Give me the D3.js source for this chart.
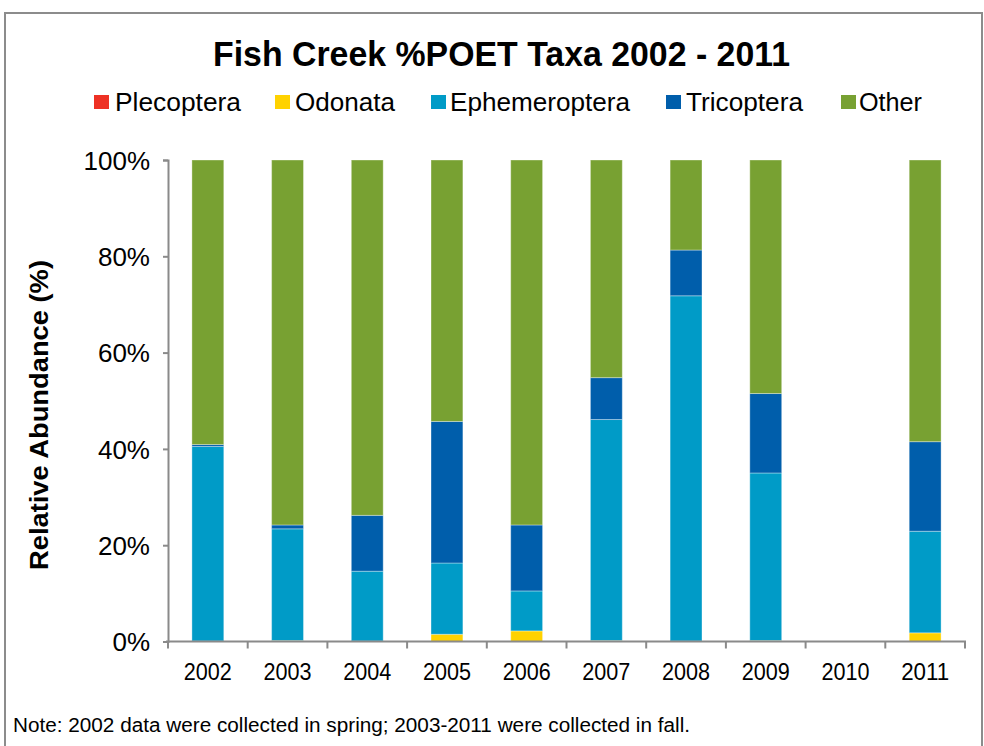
<!DOCTYPE html>
<html>
<head>
<meta charset="utf-8">
<script src="https://cdn.jsdelivr.net/npm/d3@7"></script>
<style>
  html, body { margin: 0; padding: 0; background: #fff; }
  svg { display: block; font-family: "Liberation Sans", Arial, sans-serif; }
</style>
</head>
<body>
<svg id="chart" width="984" height="746"></svg>
<script>
// Sampling years
const years = ["2002", "2003", "2004", "2005", "2006", "2007", "2008", "2009", "2010", "2011"];

// Relative abundance (%) of each taxon group per year (2010: no sample)
const plecoptera    = [0,    0,    0,    0,    0,    0,    0,    0,    0, 0];
const odonata       = [0.1,  0.2,  0.1,  1.5,  2.2,  0.2,  0.1,  0.2,  0, 1.8];
const ephemeroptera = [40.4, 23.2, 14.5, 14.8, 8.3,  45.9, 71.7, 34.8, 0, 21.1];
const tricoptera    = [0.4,  0.8,  11.6, 29.4, 13.7, 8.7,  9.5,  16.5, 0, 18.6];
const other         = [59.1, 75.8, 73.8, 54.3, 75.8, 45.2, 18.7, 48.5, 0, 58.5];

const seriesNames = ["Plecoptera", "Odonata", "Ephemeroptera", "Tricoptera", "Other"];
const seriesValues = [plecoptera, odonata, ephemeroptera, tricoptera, other];
const yTicks = [0, 20, 40, 60, 80, 100];

const colors = {
  Plecoptera: "#EE3124",
  Odonata: "#FFD200",
  Ephemeroptera: "#009BC7",
  Tricoptera: "#005EAB",
  Other: "#78A132"
};

const svg = d3.select("#chart");
const axisColor = "#8a8a8a";

// Outer frame
svg.append("rect")
  .attr("x", 5).attr("y", 13).attr("width", 977).attr("height", 760)
  .attr("fill", "none").attr("stroke", "#8c8c8c").attr("stroke-width", 2);

// Title
svg.append("text")
  .attr("x", 213).attr("y", 66)
  .attr("font-size", 35).attr("font-weight", "bold")
  .attr("textLength", 577).attr("lengthAdjust", "spacingAndGlyphs")
  .text("Fish Creek %POET Taxa 2002 - 2011");

// Legend
const legendPos = [
  { sx: 94,  tx: 115, w: 126 },
  { sx: 275, tx: 295, w: 100 },
  { sx: 431, tx: 450, w: 180 },
  { sx: 666, tx: 686, w: 117 },
  { sx: 841, tx: 859, w: 63 }
];
const legend = svg.append("g");
seriesNames.forEach((name, i) => {
  const p = legendPos[i];
  legend.append("rect")
    .attr("x", p.sx).attr("y", 95).attr("width", 15).attr("height", 14)
    .attr("fill", colors[name]);
  legend.append("text")
    .attr("x", p.tx).attr("y", 110.5)
    .attr("font-size", 25)
    .attr("textLength", p.w).attr("lengthAdjust", "spacingAndGlyphs")
    .text(name);
});

// Scales
const x = d3.scaleBand().domain(years).range([168, 965]).paddingInner(0.6).paddingOuter(0.3);
const band = d3.scaleBand().domain(years).range([168, 965]);
const y = d3.scaleLinear().domain([0, 100]).range([641.5, 160]);

// Stacked data
const table = years.map((yr, i) => {
  const row = { year: yr };
  seriesNames.forEach((n, k) => { row[n] = seriesValues[k][i]; });
  return row;
});
const stacked = d3.stack().keys(seriesNames)(table);

const bars = svg.append("g");
stacked.forEach(layer => {
  bars.append("g")
    .attr("fill", colors[layer.key])
    .selectAll("rect")
    .data(layer.filter(d => d[1] - d[0] > 0))
    .join("rect")
    .attr("x", d => x(d.data.year))
    .attr("width", x.bandwidth())
    .attr("y", d => y(d[1]))
    .attr("height", d => y(d[0]) - y(d[1]))
    .attr("stroke", "rgba(255,255,255,0.35)")
    .attr("stroke-width", 1);
});

// Y axis
const yAxis = svg.append("g")
  .attr("transform", "translate(168,0)")
  .call(d3.axisLeft(y).tickValues(yTicks).tickFormat(d => d + "%").tickSize(5).tickPadding(13));
yAxis.select(".domain").attr("stroke", axisColor).attr("stroke-width", 2);
yAxis.selectAll(".tick line").attr("stroke", axisColor).attr("stroke-width", 2);
yAxis.selectAll(".tick text")
  .attr("font-size", 26).attr("fill", "#000")
  .attr("dy", "0.36em")
  .attr("font-family", "Liberation Sans, Arial, sans-serif");

// X axis with ticks at band boundaries
const xAxisG = svg.append("g").attr("transform", "translate(0,641.5)");
xAxisG.append("line")
  .attr("x1", 166).attr("x2", 966)
  .attr("stroke", axisColor).attr("stroke-width", 2);
const boundaries = years.map(yr => band(yr)).concat([band.range()[1]]);
xAxisG.selectAll("line.tk")
  .data(boundaries)
  .join("line")
  .attr("class", "tk")
  .attr("x1", d => d).attr("x2", d => d)
  .attr("y1", 0).attr("y2", 7)
  .attr("stroke", axisColor).attr("stroke-width", 2);
xAxisG.selectAll("text")
  .data(years)
  .join("text")
  .attr("x", d => band(d) + band.bandwidth() / 2)
  .attr("y", 38)
  .attr("text-anchor", "middle")
  .attr("font-size", 23)
  .attr("textLength", 48).attr("lengthAdjust", "spacingAndGlyphs")
  .text(d => d);

// Y axis title
svg.append("text")
  .attr("transform", "translate(48,415) rotate(-90)")
  .attr("text-anchor", "middle")
  .attr("font-size", 25).attr("font-weight", "bold")
  .attr("textLength", 310).attr("lengthAdjust", "spacingAndGlyphs")
  .text("Relative Abundance (%)");

// Footnote
svg.append("text")
  .attr("x", 13).attr("y", 732)
  .attr("font-size", 20)
  .attr("font-family", "'Liberation Sans Narrow', 'Liberation Sans', sans-serif")
  .attr("textLength", 677).attr("lengthAdjust", "spacingAndGlyphs")
  .text("Note: 2002 data were collected in spring; 2003-2011 were collected in fall.");
</script>
</body>
</html>
